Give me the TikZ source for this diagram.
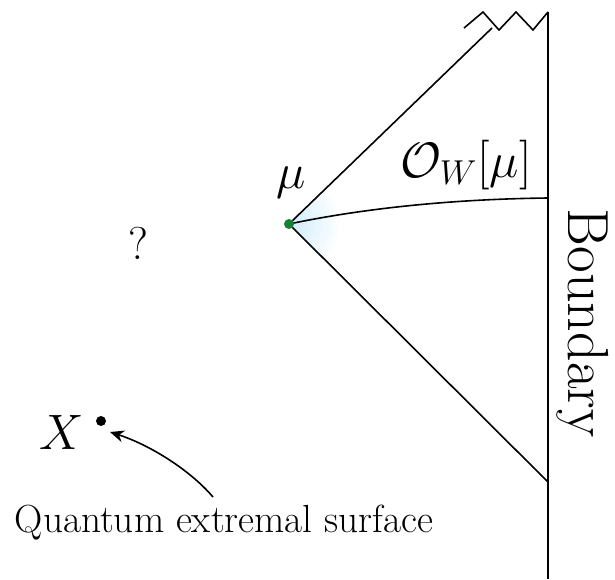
\documentclass[tikz,border=0pt]{standalone}
\usetikzlibrary{arrows.meta}
\begin{document}
\begin{tikzpicture}[x=0.5pt,y=-0.5pt,
  ln/.style={line width=0.8pt,black},
  lbl/.style={inner sep=0pt}]
\useasboundingbox (0,0) rectangle (615,579);
% shading near mu
\begin{scope}
\clip (289,224) -- (400,113) -- (400,335) -- cycle;
\foreach \r in {6,10,...,50} {\fill[blue!40!cyan!60, opacity=0.028] (289,224) circle (\r);}
\end{scope}
\coordinate (mu) at (289,224);
\coordinate (top) at (492,28);
\coordinate (btop) at (548,12);
\coordinate (bbot) at (548,579);
\coordinate (blow) at (548,482);
\coordinate (bmid) at (548,198);
\coordinate (z0) at (464,28);
\draw[ln] (btop) -- (bbot);
\draw[ln] (mu) -- (top);
\draw[ln] (mu) -- (blow);
\draw[ln] (z0) -- (483,12) -- (499,30) -- (516,12) -- (533,30) -- (btop);
\draw[ln] (mu) .. controls (370,207) and (460,199) .. (bmid);
\node[circle,fill={rgb,255:red,20;green,130;blue,50},inner sep=0pt,minimum size=5pt] (mudot) at (mu) {};
\node[lbl] (mulbl) at (291,183) {\fontsize{27}{31}\selectfont$\mu$};
\node[lbl] (ow) at (466,165) {\fontsize{23}{27}\selectfont$\mathcal{O}_W[\mu]$};
\node[lbl] (q) at (138,243) {\fontsize{23}{27}\selectfont ?};
\node[circle,fill=black,inner sep=0pt,minimum size=5pt] (x) at (101,421) {};
\node[lbl] (xl) at (62,432) {\fontsize{24}{28}\selectfont$X$};
\node[lbl] (qes) at (224,523) {\fontsize{19.6}{23}\selectfont Quantum extremal surface};
\node[lbl,rotate=-90] (bd) at (583,323) {\fontsize{29}{34}\selectfont Boundary};
\coordinate (as) at (213,497);
\draw[ln,-{Stealth[length=7pt,width=6pt]}] (as) .. controls (190,470) and (150,445) .. (110,432);
\end{tikzpicture}
\end{document}
